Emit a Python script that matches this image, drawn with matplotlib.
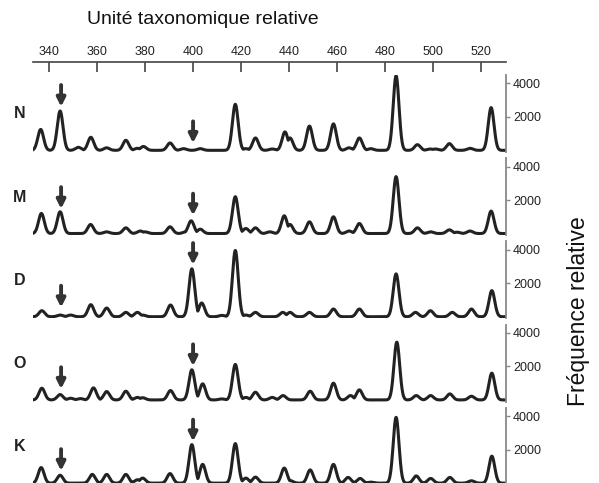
import numpy as np
import matplotlib
matplotlib.use('Agg')
import matplotlib.pyplot as plt

plt.rcParams['font.family'] = ['Liberation Sans', 'DejaVu Sans']

# samples, top to bottom
samples = ['N', 'M', 'D', 'O', 'K']

# peak positions (relative taxonomic unit) and heights (relative frequency)
pos_N = [336.5, 344.6, 352.2, 357.4, 364, 372, 376.8, 379.3, 390.4, 396, 403, 417.6, 422, 426, 433,
         438.3, 440.4, 448.5, 458.5, 465, 469.3, 474, 484.6, 493.5, 498.7, 501, 506.8, 515.4, 524.2]
hgt_N = [1250, 2350, 180, 780, 150, 600, 120, 230, 440, 100, 100, 2750, 100, 740, 80,
         1100, 740, 1450, 1580, 150, 740, 100, 4450, 340, 80, 80, 400, 120, 2550]

pos_M = [336.8, 344.6, 357.3, 364, 372, 378, 380, 390.4, 397, 399.2, 403, 417.6, 422, 426, 432,
         438, 440.4, 448.5, 458.5, 465, 469.3, 484.6, 493.5, 499, 506.8, 510, 515.4, 524.2]
hgt_M = [1200, 1300, 540, 100, 340, 150, 100, 400, 100, 760, 260, 2200, 300, 340, 100,
         1060, 540, 700, 1000, 150, 600, 3400, 340, 100, 220, 80, 150, 1340]

pos_D = [337, 344.6, 349, 357.4, 364, 372, 376.8, 379, 390.6, 399.5, 403.6, 412, 417.6, 422, 426,
         437.4, 440.4, 448.5, 458.5, 469.3, 484.6, 492.7, 498.9, 508, 516, 524.5]
hgt_D = [360, 100, 100, 720, 520, 260, 260, 100, 700, 2860, 820, 80, 3960, 100, 260,
         260, 260, 260, 460, 460, 2560, 260, 360, 260, 460, 1560]

pos_O = [337, 344.6, 349, 353, 358.5, 364, 372, 376.8, 379, 390.6, 399.5, 404, 412, 417.6, 422, 426,
         433, 437.5, 448.8, 458.5, 465.6, 469.3, 484.9, 493, 499, 507, 516, 524.5]
hgt_O = [700, 320, 100, 80, 720, 500, 520, 150, 130, 560, 1800, 960, 60, 2120, 150, 460,
         150, 260, 520, 1000, 260, 600, 3450, 260, 260, 360, 220, 1600]

pos_K = [336.7, 344.6, 358, 364, 372, 376.8, 379, 390.4, 399.5, 404, 417.6, 422, 426, 438, 440.5,
         448.8, 458.5, 464.6, 469.6, 474, 484.6, 493, 499, 507, 516, 524.5]
hgt_K = [930, 470, 520, 520, 520, 200, 300, 570, 2300, 1120, 2360, 300, 360, 900, 150,
         790, 1120, 340, 280, 60, 3930, 430, 280, 340, 140, 1610]

peak_pos = [pos_N, pos_M, pos_D, pos_O, pos_K]
peak_hgt = [hgt_N, hgt_M, hgt_D, hgt_O, hgt_K]

# arrows: x position and tip height in each panel
arrow_x = [345, 400]
arrow_tip = [[2600, 430], [1470, 1080], [550, 3100], [650, 2020], [730, 2490]]

x_ticks = [340, 360, 380, 400, 420, 440, 460, 480, 500, 520]
y_ticks = [2000, 4000]

xmin, xmax = 333.3, 530.4
W, H = 599, 483
fig = plt.figure(figsize=(W / 100, H / 100), dpi=100)

left = 33 / W
width = (506 - 33) / W
panel_h = 77 / H
line_col = '#222222'

x = np.linspace(xmin, xmax, 3000)
for i, s in enumerate(samples):
    top_px = 75 + i * 83.2
    ax = fig.add_axes([left, 1 - (top_px + 77) / H, width, panel_h])
    y = np.zeros_like(x)
    for p, h in zip(peak_pos[i], peak_hgt[i]):
        y = np.maximum(y, h * np.exp(-0.5 * ((x - p) / 1.2) ** 2))
    ax.plot(x, y, color=line_col, lw=2.2, solid_joinstyle='round')
    ax.set_xlim(xmin, xmax)
    ax.set_ylim(-100, 4500)
    for sp in ['top', 'left', 'bottom']:
        ax.spines[sp].set_visible(False)
    ax.spines['right'].set_color('#888888')
    ax.spines['right'].set_linewidth(1.3)
    ax.set_xticks([])
    ax.yaxis.tick_right()
    ax.set_yticks(y_ticks)
    ax.set_yticklabels([str(t) for t in y_ticks])
    ax.tick_params(axis='y', direction='out', length=3, width=1, color='#888888',
                   labelsize=9, labelcolor='#222222', pad=2)
    for ax_x, tip in zip(arrow_x, arrow_tip[i]):
        ax.annotate('', xy=(ax_x, tip), xytext=(ax_x, tip + 1300),
                    arrowprops=dict(arrowstyle='-|>,head_width=0.25,head_length=0.5',
                                    lw=2.8, fc='#777777', ec='#333333',
                                    shrinkA=0, shrinkB=0))
    fig.text(20 / W, 1 - (top_px + 39) / H, s, fontsize=11.5, fontweight='bold',
             ha='center', va='center', color='#222222')

# top axis
ax_top = fig.add_axes([left, 1 - 62 / H, width, 0.0001])
ax_top.set_xlim(xmin, xmax)
for sp in ['bottom', 'left', 'right']:
    ax_top.spines[sp].set_visible(False)
ax_top.spines['top'].set_color('#444444')
ax_top.spines['top'].set_linewidth(1.2)
ax_top.set_yticks([])
ax_top.xaxis.tick_top()
ax_top.set_xticks(x_ticks)
ax_top.tick_params(axis='x', direction='in', length=7, width=1.2, color='#444444',
                   labelsize=9, labelcolor='#222222', pad=3)
ax_top.patch.set_visible(False)

fig.text(203 / W, 1 - 20 / H, 'Unité taxonomique relative', fontsize=14,
         ha='center', va='center', color='#111111')
fig.text(578 / W, 1 - 311 / H, 'Fréquence relative', fontsize=16.5, rotation=90,
         ha='center', va='center', color='#111111')

fig.savefig('out.png', dpi=100)
